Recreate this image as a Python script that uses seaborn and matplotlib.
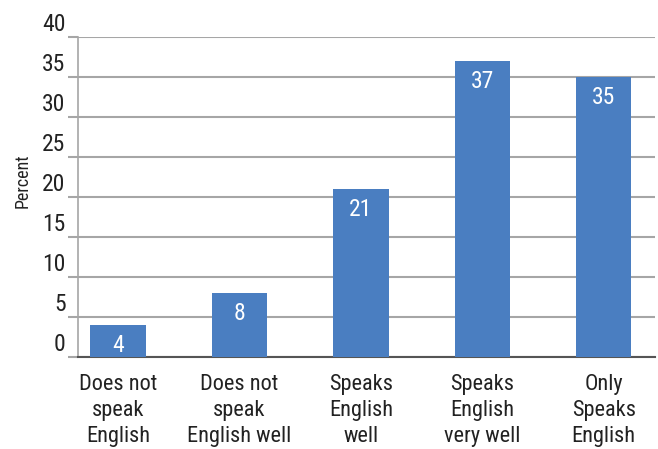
import matplotlib
matplotlib.use("Agg")
import matplotlib.pyplot as plt
import matplotlib.transforms as mtransforms
import seaborn as sns
import pandas as pd

categories = ["Does not\nspeak\nEnglish", "Does not\nspeak\nEnglish well",
              "Speaks\nEnglish\nwell", "Speaks\nEnglish\nvery well",
              "Only\nSpeaks\nEnglish"]
percent = [4, 8, 21, 37, 35]
y_ticks = [0, 5, 10, 15, 20, 25, 30, 35, 40]

sns.set_theme(style="white")
plt.rcParams["font.family"] = ["Roboto Condensed", "Archivo Narrow", "DejaVu Sans"]

df = pd.DataFrame({"category": categories, "percent": percent})

fig = plt.figure(figsize=(6.58, 4.49), dpi=100)
ax = fig.add_axes([0.1185, 0.2049, 0.8765, 0.7127])

bar_color = "#4A7EC1"
sns.barplot(data=df, x="category", y="percent", color=bar_color,
            saturation=1, width=0.455, linewidth=0, ax=ax, zorder=3)

ax.set_ylim(0, 40)
ax.set_xlim(-0.33, 4.42)
ax.set_yticks(y_ticks)
ax.set_yticklabels([str(t) for t in y_ticks])
ax.yaxis.grid(True, color="#a6a6a6", linewidth=1.5, zorder=0)
ax.set_axisbelow(True)

for side in ["top", "right"]:
    ax.spines[side].set_visible(False)
ax.spines["left"].set_color("#a6a6a6")
ax.spines["left"].set_linewidth(1.2)
ax.spines["bottom"].set_color("#555555")
ax.spines["bottom"].set_linewidth(1.5)

ax.tick_params(axis="y", length=7, width=1.5, color="#a6a6a6", pad=2,
               labelsize=17, labelcolor="#222222", left=True)
ax.tick_params(axis="x", length=0, pad=12, labelsize=16, labelcolor="#222222")
for lbl in ax.get_xticklabels():
    lbl.set_linespacing(1.32)

# y tick labels sit above their gridlines
offset = mtransforms.ScaledTranslation(0, 0.15, fig.dpi_scale_trans)
for lbl in ax.get_yticklabels():
    lbl.set_transform(lbl.get_transform() + offset)

ax.set_xlabel("")
ax.set_ylabel("Percent", fontsize=13, color="#222222")
ax.yaxis.set_label_coords(-0.08, 0.55)

# value labels inside the bar tops
for i, v in enumerate(percent):
    ax.annotate(str(v), xy=(i, v), xytext=(0, -21), textcoords="offset pixels",
                ha="center", va="center", color="white", fontsize=17, zorder=4)

fig.savefig("out.png", dpi=100)
